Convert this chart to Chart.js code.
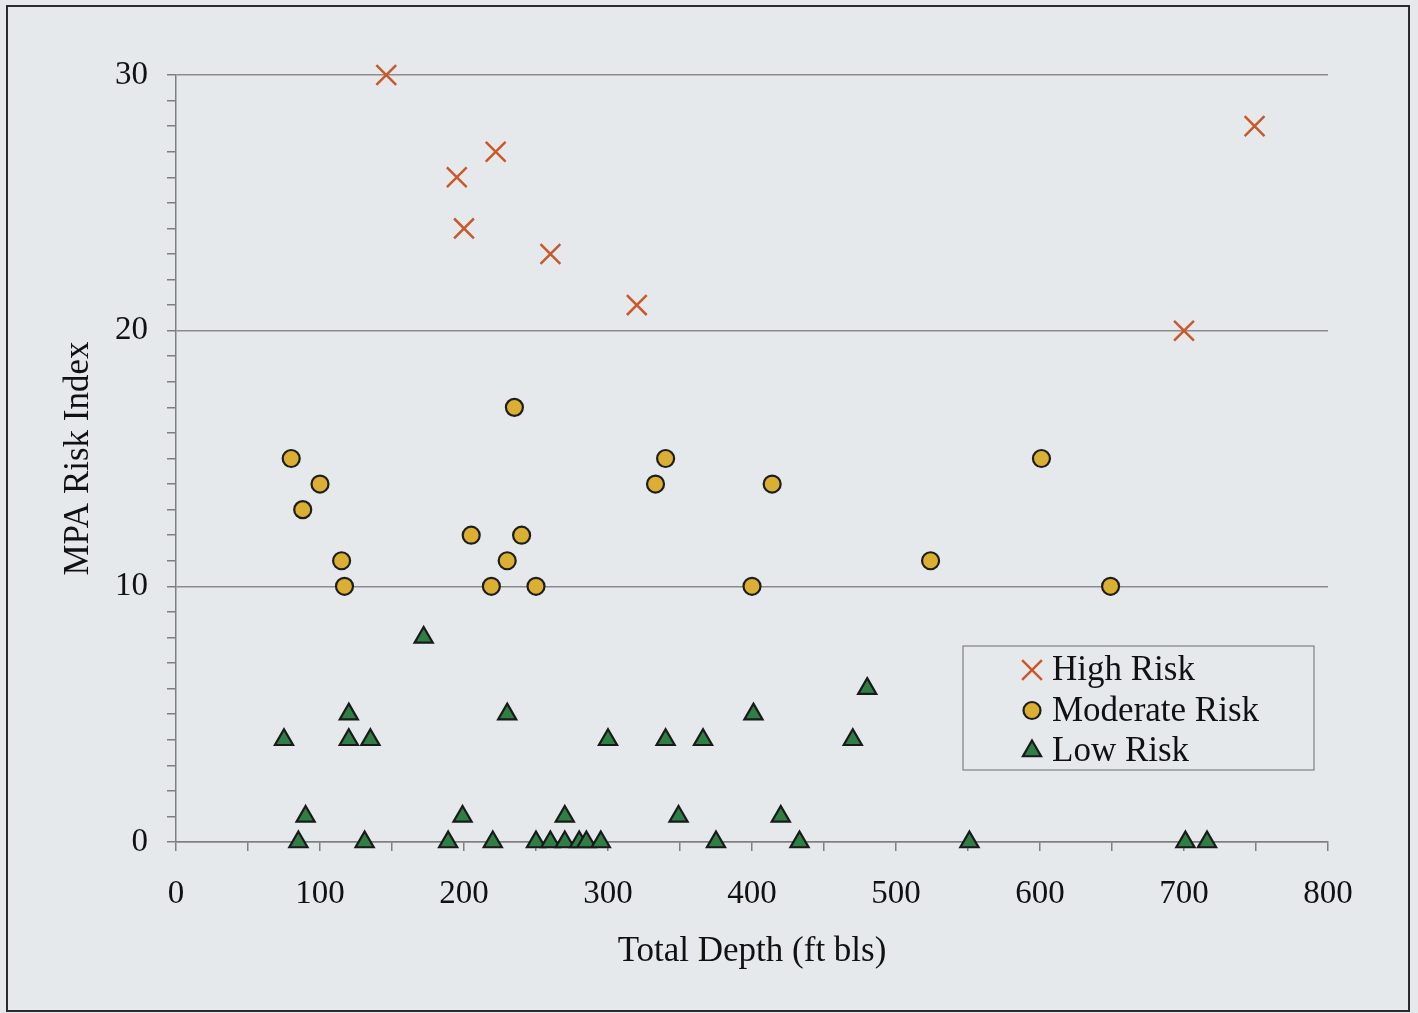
<!DOCTYPE html>
<html>
<head>
<meta charset="utf-8">
<script src="https://cdn.jsdelivr.net/npm/chart.js@4/dist/chart.umd.min.js"></script>
<style>
  html, body { margin: 0; padding: 0; background: #e6e9ec; }
  #wrap { position: relative; width: 1418px; height: 1013px; }
  #frame {
    position: absolute; left: 6px; top: 5px; width: 1400px; height: 1003px;
    border: 2px solid #2b2b2b; pointer-events: none;
  }
</style>
</head>
<body>
<div id="wrap">
  <canvas id="riskChart" width="1418" height="1013"></canvas>
  <div id="frame"></div>
</div>
<script>
// data (depth in ft bls, MPA risk index)
const highDepth = [146, 195, 200, 222, 260, 320, 700, 749];
const highIndex = [30, 26, 24, 27, 23, 21, 20, 28];

const modDepth = [80, 88, 100, 115, 117, 205, 219, 230, 235, 240, 250, 333, 340, 400, 414, 524, 601, 649];
const modIndex = [15, 13, 14, 11, 10, 12, 10, 11, 17, 12, 10, 14, 15, 10, 14, 11, 15, 10];

const lowDepth = [75, 85, 90, 120, 120, 135, 131, 172, 189, 199, 220, 230, 250, 260, 270, 270, 280, 285, 295, 300,
  340, 349, 366, 375, 401, 420, 433, 470, 480, 551, 701, 716];
const lowIndex = [4, 0, 1, 5, 4, 4, 0, 8, 0, 1, 0, 5, 0, 0, 1, 0, 0, 0, 0, 4,
  4, 1, 4, 0, 5, 1, 0, 4, 6, 0, 0, 0];

const seriesNames = ["High Risk", "Moderate Risk", "Low Risk"];

const serif = '"Liberation Serif", "Times New Roman", serif';
const axisGrey = "#7f7f7f";

function toPoints(xs, ys) {
  return xs.map((x, i) => ({ x: x, y: ys[i] }));
}

// legend box drawn inside the plot, bottom right
const boxLegend = {
  id: "boxLegend",
  afterDraw(chart) {
    const ctx = chart.ctx;
    const area = chart.chartArea;
    const left = area.right - 365;
    const top = area.bottom - 196;
    ctx.save();
    ctx.strokeStyle = "#808080";
    ctx.lineWidth = 1.2;
    ctx.strokeRect(left, top, 351, 124);
    ctx.font = "35px " + serif;
    ctx.textBaseline = "middle";
    chart.data.datasets.forEach((ds, i) => {
      const y = top + 24 + i * 40.5;
      const x = left + 69;
      ctx.fillStyle = ds.backgroundColor;
      ctx.strokeStyle = ds.borderColor;
      ctx.lineWidth = ds.borderWidth;
      Chart.helpers.drawPoint(ctx, {
        pointStyle: ds.pointStyle, radius: ds.pointRadius,
        rotation: 0, borderWidth: ds.borderWidth
      }, x, y);
      ctx.fillStyle = "#111";
      ctx.fillText(ds.label, left + 89, y + 1);
    });
    ctx.restore();
  }
};

const ctx = document.getElementById("riskChart").getContext("2d");

new Chart(ctx, {
  type: "scatter",
  data: {
    datasets: [
      {
        label: seriesNames[0],
        data: toPoints(highDepth, highIndex),
        pointStyle: "crossRot",
        pointRadius: 14,
        borderWidth: 2.5,
        borderColor: "#c9592b",
        backgroundColor: "#c9592b",
        clip: false,
      },
      {
        label: seriesNames[1],
        data: toPoints(modDepth, modIndex),
        pointStyle: "circle",
        pointRadius: 8.5,
        borderWidth: 2.2,
        borderColor: "#1e1e1e",
        backgroundColor: "#dbb032",
        clip: false,
      },
      {
        label: seriesNames[2],
        data: toPoints(lowDepth, lowIndex),
        pointStyle: "triangle",
        pointRadius: 10.5,
        borderWidth: 2.2,
        borderColor: "#1a1a1a",
        backgroundColor: "#2f7e46",
        clip: false,
      },
    ],
  },
  options: {
    responsive: false,
    animation: false,
    events: [],
    layout: { padding: { left: 0, top: 75, right: 90, bottom: 0 } },
    plugins: {
      legend: { display: false },
      tooltip: { enabled: false },
    },
    scales: {
      x: {
        type: "linear",
        min: 0,
        max: 800,
        border: { color: axisGrey, width: 1.5 },
        grid: { drawOnChartArea: false, color: axisGrey, tickLength: 9, lineWidth: 1.5 },
        ticks: {
          stepSize: 50,
          autoSkip: false,
          maxRotation: 0,
          padding: 24,
          color: "#111",
          font: { family: serif, size: 33 },
          callback: (v) => (v % 100 === 0 ? v : ""),
        },
        title: {
          display: true,
          text: "Total Depth (ft bls)",
          color: "#111",
          font: { family: serif, size: 35 },
          padding: { top: 0, bottom: 40 },
        },
        afterFit: (scale) => {
          scale.height = 171;
        },
      },
      y: {
        type: "linear",
        min: 0,
        max: 30,
        border: { color: axisGrey, width: 1.5 },
        grid: {
          color: (c) => (c.tick && c.tick.value % 10 === 0 ? "#8c8c8c" : "rgba(0,0,0,0)"),
          tickColor: axisGrey,
          tickLength: 9,
          lineWidth: 1.5,
        },
        ticks: {
          stepSize: 1,
          autoSkip: false,
          padding: 19,
          color: "#111",
          font: { family: serif, size: 33 },
          callback: (v) => (v % 10 === 0 ? v : ""),
        },
        title: {
          display: true,
          text: "MPA Risk Index",
          color: "#111",
          font: { family: serif, size: 35 },
          padding: { top: 58, bottom: 0 },
        },
        afterFit: (scale) => {
          scale.width = 176;
        },
      },
    },
  },
  plugins: [boxLegend],
});
</script>
</body>
</html>
